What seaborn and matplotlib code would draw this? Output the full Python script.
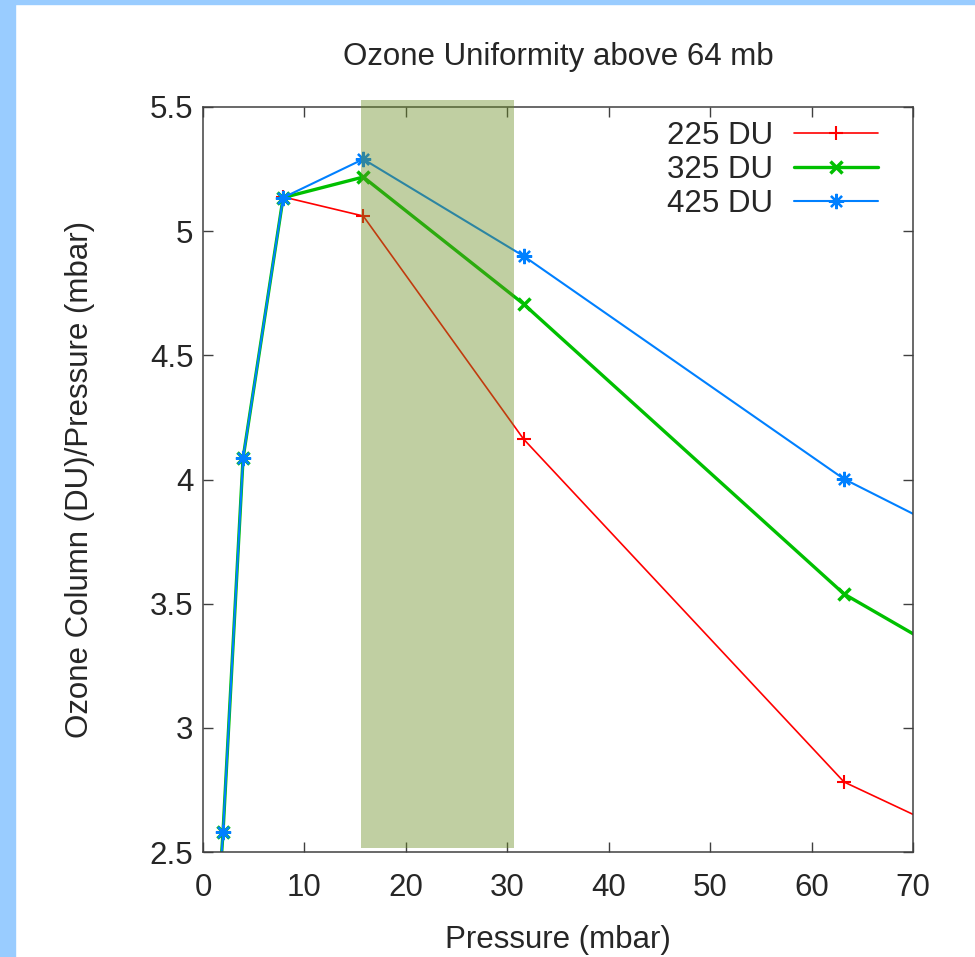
import matplotlib
matplotlib.use("Agg")
import matplotlib.pyplot as plt
import matplotlib.patches as mpatches
import seaborn as sns
import pandas as pd
import numpy as np

# pressures (mbar) and ozone column / pressure values
pressure = [0.99, 1.975, 3.95, 7.9, 15.8, 31.6, 63.2, 126.4]
du225 = [1.97, 2.58, 4.086, 5.138, 5.061, 4.163, 2.782, 1.57]
du325 = [1.97, 2.58, 4.086, 5.135, 5.218, 4.707, 3.539, 2.05]
du425 = [1.97, 2.58, 4.086, 5.135, 5.290, 4.900, 4.002, 2.70]
labels = ["225 DU", "325 DU", "425 DU"]
band = (15.6, 30.7)  # shaded pressure band

df = pd.DataFrame({
    "pressure": pressure * 3,
    "ratio": du225 + du325 + du425,
    "series": [labels[0]] * len(pressure) + [labels[1]] * len(pressure) + [labels[2]] * len(pressure),
})

FS = 22.5
sns.set_style("ticks")
plt.rcParams["font.family"] = ["Liberation Sans", "DejaVu Sans"]
plt.rcParams["font.size"] = FS

fig = plt.figure(figsize=(9.75, 9.57), dpi=100)
# light blue frame strips on the left and top
fig.patches.append(mpatches.Rectangle((0, 0), 15 / 975, 1, transform=fig.transFigure,
                                      color="#99ccff", zorder=-10))
fig.patches.append(mpatches.Rectangle((0, 1 - 4 / 957), 1, 4 / 957, transform=fig.transFigure,
                                      color="#99ccff", zorder=-10))
ax = fig.add_axes([203 / 975, 1 - 852 / 957, 710 / 975, 745 / 957])

styles = {
    labels[0]: dict(color="#ff0000", lw=1.2, marker="+", ms=10, mew=1.5),
    labels[1]: dict(color="#00c000", lw=2.4, marker="x", ms=8, mew=2.5),
    labels[2]: dict(color="#0080ff", lw=1.5, marker=(8, 2, 0), ms=11, mew=1.6),
}
for lab in labels:
    sub = df[df["series"] == lab]
    st = styles[lab]
    sns.lineplot(data=sub, x="pressure", y="ratio", ax=ax, sort=False, estimator=None,
                 color=st["color"], linewidth=st["lw"], marker=st["marker"],
                 markersize=st["ms"], markeredgewidth=st["mew"],
                 markeredgecolor=st["color"], label=lab)

ax.add_patch(mpatches.Rectangle((band[0], 2.516), band[1] - band[0], 5.528 - 2.516,
                                facecolor="#6b8e23", alpha=0.42, edgecolor="none",
                                clip_on=False, zorder=5))

ax.set_xlim(0, 70)
ax.set_ylim(2.5, 5.5)
ax.set_xticks(np.arange(0, 71, 10))
ax.set_yticks([2.5, 3, 3.5, 4, 4.5, 5, 5.5])
ax.set_yticklabels(["2.5", "3", "3.5", "4", "4.5", "5", "5.5"])
ax.tick_params(direction="in", length=7, width=1, top=True, right=True,
               labelsize=FS, color="#404040")
ax.tick_params(axis="x", pad=15)
ax.tick_params(axis="y", pad=7)
for s in ax.spines.values():
    s.set_color("#404040")
    s.set_linewidth(1.1)

ax.set_title("Ozone Uniformity above 64 mb", fontsize=FS, pad=30)
ax.set_xlabel("Pressure (mbar)", fontsize=FS, labelpad=16)
ax.set_ylabel("Ozone Column (DU)/Pressure (mbar)", fontsize=FS, labelpad=39)

ax.legend(loc="upper right", markerfirst=False, frameon=False, fontsize=FS,
          handlelength=2.7, handletextpad=0.65, labelspacing=0.13,
          borderpad=0, borderaxespad=0,
          bbox_to_anchor=((878 - 203) / 710, 1 - 14 / 745))

fig.savefig("out.png", dpi=100)
